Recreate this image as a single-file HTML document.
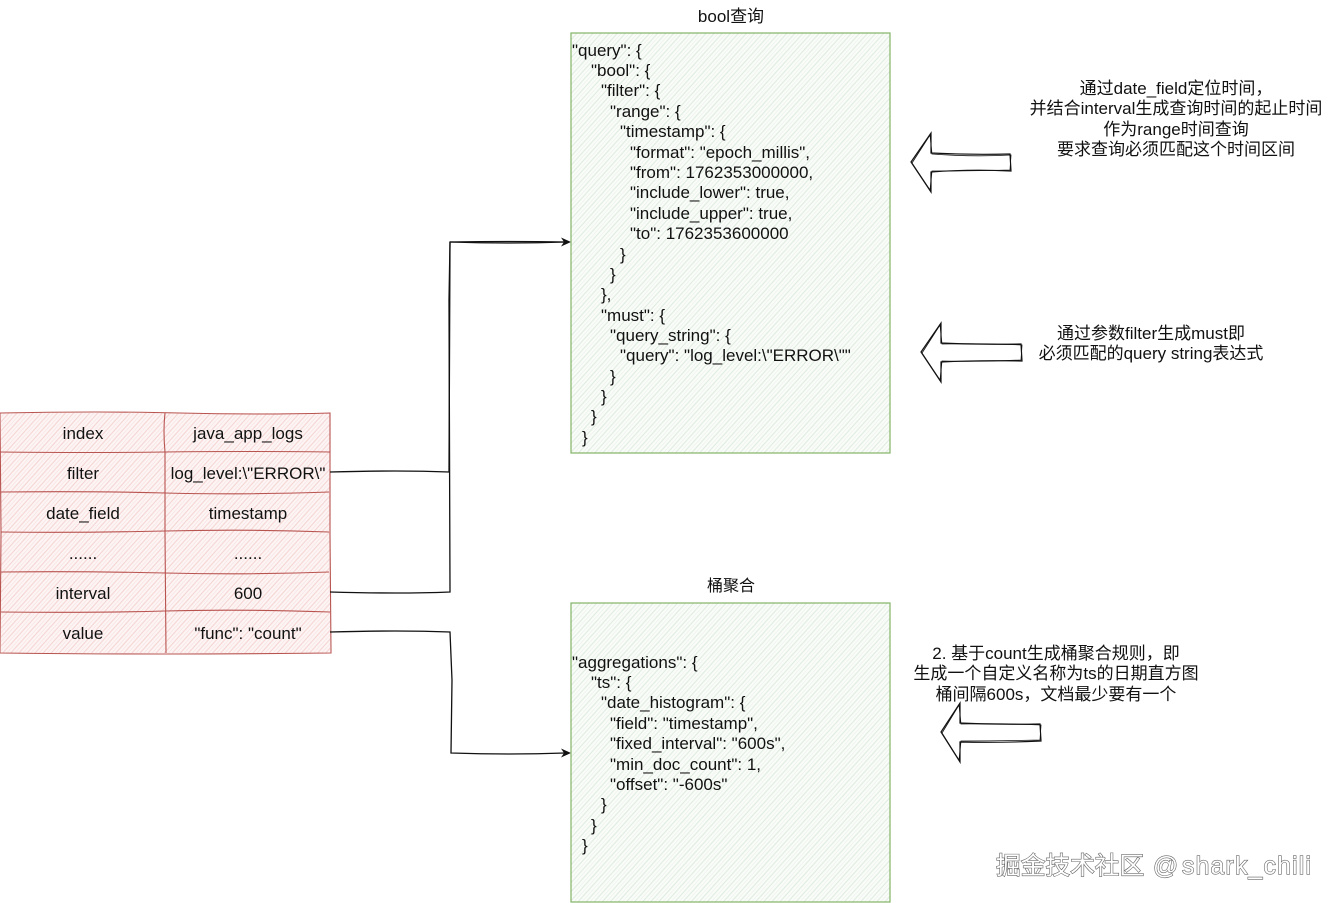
<!DOCTYPE html>
<html><head><meta charset="utf-8"><style>
html,body{margin:0;padding:0;background:#fff;width:1336px;height:903px;overflow:hidden}
svg{display:block}
text{font-family:"Liberation Sans","Noto Sans CJK SC",sans-serif;font-size:17px;fill:#111}
.c{text-anchor:middle}
.w{font-size:24.700px;fill:#fff;stroke:#666;stroke-width:1.200;paint-order:stroke}
</style></head><body>
<svg width="1336" height="903" viewBox="0 0 1336 903" xmlns="http://www.w3.org/2000/svg">
<defs>
<pattern id="r" width="6" height="6" patternUnits="userSpaceOnUse" patternTransform="rotate(42)">
<rect width="6" height="6" fill="#fdf5f5"/><line x1="1" y1="0" x2="1" y2="6" stroke="#f5d5d3" stroke-width="1.100"/><line x1="4" y1="0" x2="4" y2="6" stroke="#f9e4e3" stroke-width="0.800"/>
</pattern>
<pattern id="g" width="6" height="6" patternUnits="userSpaceOnUse" patternTransform="rotate(42)">
<rect width="6" height="6" fill="#fafcf9"/><line x1="1" y1="0" x2="1" y2="6" stroke="#dfece0" stroke-width="1.100"/><line x1="4" y1="0" x2="4" y2="6" stroke="#edf4ec" stroke-width="0.800"/>
</pattern>
</defs>
<rect width="1336" height="903" fill="#fff"/>

<!-- table -->
<rect x="1" y="413" width="329" height="240" fill="url(#r)"/>
<g fill="none" stroke="#b85450" stroke-width="1.100">
<path d="M0 413Q100 411 180 413T330 413L330 533L331 653Q160 655 0 653L1 533Z"/>
<path d="M165 413Q163 430 165 452L165 533L166 653"/>
<path d="M0 452Q90 453 165 452T330 452"/>
<path d="M1 492Q90 491 165 493T329 492"/>
<path d="M1 532Q80 533 165 531T329 532"/>
<path d="M1 572Q80 571 165 573T329 572"/>
<path d="M1 612Q90 613 165 611T330 612"/>
</g>
<g>
<text class="c" x="83" y="439">index</text><text class="c" x="248" y="439">java_app_logs</text>
<text class="c" x="83" y="479">filter</text><text class="c" x="248" y="479">log_level:\"ERROR\"</text>
<text class="c" x="83" y="519">date_field</text><text class="c" x="248" y="519">timestamp</text>
<text class="c" x="83" y="559">......</text><text class="c" x="248" y="559">......</text>
<text class="c" x="83" y="599">interval</text><text class="c" x="248" y="599">600</text>
<text class="c" x="83" y="639">value</text><text class="c" x="248" y="639">"func": "count"</text>
</g>

<!-- connectors -->
<g fill="none" stroke="#111" stroke-width="1.300">
<path d="M330 472Q400 470 449 472L450 242"/>
<path d="M330 592Q400 594 450 592L449 300L450 242Q510 241 565 242"/>
<path d="M450 242Q510 244 565 242"/>
<path d="M330 632Q400 630 450 632L452 680L451 753Q510 755 565 753"/>
</g>
<path d="M571 242L561 237.500L564 242L561 246.500Z" fill="#111"/>
<path d="M571 753L561 748.500L564 753L561 757.500Z" fill="#111"/>

<!-- bool box -->
<text class="c" x="731" y="22">bool查询</text>
<rect x="571" y="33" width="319" height="420" fill="url(#g)" stroke="#82b366" stroke-width="1.200"/>
<text x="572" y="56">"query": {</text>
<text x="591" y="76">"bool": {</text>
<text x="601" y="96">"filter": {</text>
<text x="610" y="117">"range": {</text>
<text x="620" y="137">"timestamp": {</text>
<text x="630" y="158">"format": "epoch_millis",</text>
<text x="630" y="178">"from": 1762353000000,</text>
<text x="630" y="198">"include_lower": true,</text>
<text x="630" y="219">"include_upper": true,</text>
<text x="630" y="239">"to": 1762353600000</text>
<text x="620" y="260">}</text>
<text x="610" y="280">}</text>
<text x="601" y="300">},</text>
<text x="601" y="321">"must": {</text>
<text x="610" y="341">"query_string": {</text>
<text x="620" y="361">"query": "log_level:\"ERROR\""</text>
<text x="610" y="382">}</text>
<text x="601" y="402">}</text>
<text x="591" y="422">}</text>
<text x="582" y="443">}</text>

<!-- agg box -->
<text class="c" x="731" y="591" style="font-size:16px">桶聚合</text>
<rect x="571" y="603" width="319" height="299" fill="url(#g)" stroke="#82b366" stroke-width="1.200"/>
<text x="572" y="668">"aggregations": {</text>
<text x="591" y="688">"ts": {</text>
<text x="601" y="708">"date_histogram": {</text>
<text x="610" y="729">"field": "timestamp",</text>
<text x="610" y="749">"fixed_interval": "600s",</text>
<text x="610" y="770">"min_doc_count": 1,</text>
<text x="610" y="790">"offset": "-600s"</text>
<text x="601" y="810">}</text>
<text x="591" y="831">}</text>
<text x="582" y="851">}</text>

<!-- block arrows -->
<g fill="#fff" stroke="#111" stroke-width="1.200" stroke-linejoin="miter">
<path d="M911 162L931 133L931 153Q970 155 1010 154L1011 171Q970 169 931 172L931 192Z"/>
<path d="M921 352L941 323L941 343Q980 345 1021 344L1022 361Q980 360 941 362L941 382Z"/>
<path d="M941 732L960 703L960 723Q1000 725 1040 724L1041 741Q1000 743 960 742L960 762Z"/>
</g>
<g fill="none" stroke="#111" stroke-width="0.800">
<path d="M912 163L930 135L932 154Q970 157 1011 155L1010 170Q970 171 932 171L930 190Z"/>
<path d="M922 353L940 325L942 344Q980 343 1022 345L1021 360Q980 362 942 361L940 380Z"/>
<path d="M942 733L959 705L961 724Q1000 723 1041 725L1040 740Q1000 741 961 741L959 760Z"/>
</g>

<!-- notes -->
<text class="c" x="1176" y="94">通过date_field定位时间，</text>
<text class="c" x="1176" y="114">并结合interval生成查询时间的起止时间</text>
<text class="c" x="1176" y="135">作为range时间查询</text>
<text class="c" x="1176" y="155">要求查询必须匹配这个时间区间</text>
<text class="c" x="1151" y="339">通过参数filter生成must即</text>
<text class="c" x="1151" y="359">必须匹配的query string表达式</text>
<text class="c" x="1056" y="659">2. 基于count生成桶聚合规则，即</text>
<text class="c" x="1056" y="679">生成一个自定义名称为ts的日期直方图</text>
<text class="c" x="1056" y="700">桶间隔600s，文档最少要有一个</text>

<!-- watermark -->
<text class="w" x="996" y="874">掘金技术社区</text>
<text class="w" x="1153" y="874">@</text>
<text class="w" x="1182" y="874" textLength="129" lengthAdjust="spacing">shark_chili</text>
</svg>
</body></html>
